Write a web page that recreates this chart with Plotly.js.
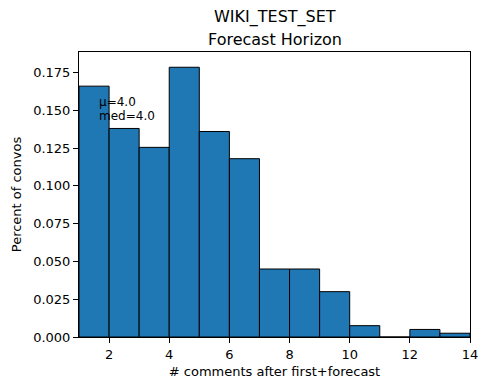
<!DOCTYPE html>
<html>
<head>
<meta charset="utf-8">
<script src="https://cdn.plot.ly/plotly-3.0.1.min.js"></script>
<style>html,body{margin:0;padding:0;background:#fff;}#chart{width:490px;height:390px;}</style>
</head>
<body>
<div id="chart"></div>
<script>
const binStarts = [1,2,3,4,5,6,7,8,9,10,11,12,13];
const binWidth = 1;
const percents = [0.166,0.138,0.1255,0.1785,0.136,0.118,0.045,0.045,0.030,0.0075,0,0.005,0.0025];
const titleLines = ["WIKI_TEST_SET","Forecast Horizon"];
const statsText = ["μ=4.0","med=4.0"];
const xTicks = [2,4,6,8,10,12,14];
const yTicks = [0,0.025,0.05,0.075,0.1,0.125,0.15,0.175];

const font = "DejaVu Sans, sans-serif";
const trace = {
  type: "bar",
  x: binStarts.map(s => s + binWidth/2),
  y: percents,
  width: binStarts.map(() => binWidth),
  marker: {color: "#1f77b4", line: {color: "#000", width: 1}},
  hoverinfo: "none"
};
const plotH = 285;
const layout = {
  width: 490, height: 390,
  margin: {l: 79, r: 20, t: 52, b: 53},
  paper_bgcolor: "#fff", plot_bgcolor: "#fff",
  font: {family: font, size: 13, color: "#000"},
  showlegend: false,
  bargap: 0,
  xaxis: {
    range: [1, 14], tickvals: xTicks, ticktext: xTicks.map(String),
    ticks: "outside", ticklen: 5, tickwidth: 1, tickcolor: "#000",
    showline: true, linecolor: "#000", linewidth: 1, mirror: true,
    showgrid: false, zeroline: false,
    tickfont: {family: font, size: 13, color: "#000"},
    title: {text: "# comments after first+forecast", font: {family: font, size: 13, color: "#000"}, standoff: 6}
  },
  yaxis: {
    range: [0, 0.1886], tickvals: yTicks, ticktext: yTicks.map(v => v.toFixed(3)),
    ticks: "outside", ticklen: 5, tickwidth: 1, tickcolor: "#000",
    showline: true, linecolor: "#000", linewidth: 1, mirror: true,
    showgrid: false, zeroline: false,
    tickfont: {family: font, size: 13, color: "#000"},
    title: {text: "Percent of convos", font: {family: font, size: 13, color: "#000"}, standoff: 8}
  },
  annotations: [
    {text: titleLines[0], xref: "paper", yref: "paper", x: 0.5, y: 1 + (52-17)/plotH,
     xanchor: "center", yanchor: "middle", showarrow: false, font: {family: font, size: 16, color: "#000"}},
    {text: titleLines[1], xref: "paper", yref: "paper", x: 0.5, y: 1 + (52-39)/plotH,
     xanchor: "center", yanchor: "middle", showarrow: false, font: {family: font, size: 16, color: "#000"}},
    {text: statsText[0], xref: "paper", yref: "paper",
     x: (97-79)/391, y: (337-102)/plotH, xanchor: "left", yanchor: "middle", align: "left",
     showarrow: false, font: {family: font, size: 12, color: "#000"}},
    {text: statsText[1], xref: "paper", yref: "paper",
     x: (97-79)/391, y: (337-116)/plotH, xanchor: "left", yanchor: "middle", align: "left",
     showarrow: false, font: {family: font, size: 12, color: "#000"}}
  ]
};
Plotly.newPlot("chart", [trace], layout, {staticPlot: true, displayModeBar: false});
</script>
</body>
</html>
